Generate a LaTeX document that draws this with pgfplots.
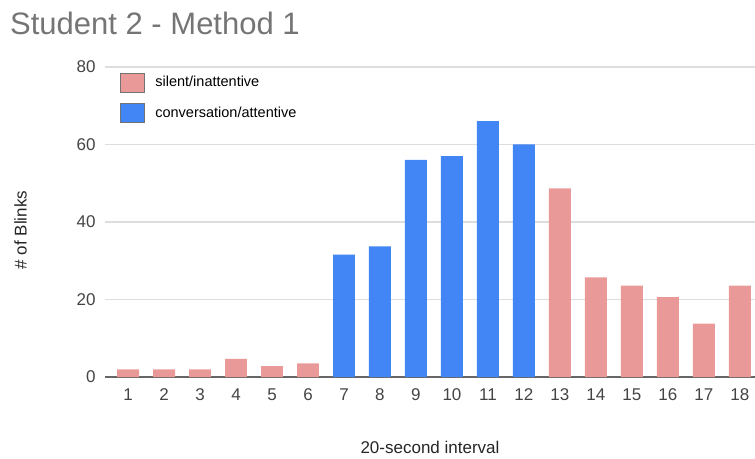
\documentclass[border=0pt]{standalone}
\usepackage{pgfplots}
\pgfplotsset{compat=1.18}
\usepackage{fontspec}
\setmainfont{Liberation Sans}
\definecolor{pinkc}{HTML}{EA9999}
\definecolor{bluec}{HTML}{4285F4}
\definecolor{titlec}{HTML}{757575}
\definecolor{tickc}{HTML}{444444}
\definecolor{gridc}{HTML}{DDDDDD}
\definecolor{zeroc}{HTML}{666666}
\begin{document}
\begin{tikzpicture}
\path[use as bounding box] (0pt,0pt) rectangle (755pt,458pt);
\node[anchor=base west, text=titlec, font=\fontsize{31}{31}\selectfont, inner sep=0pt] at (10pt,423pt) {Student 2 - Method 1};
\begin{axis}[
  at={(105pt,81pt)}, anchor=south west,
  width=650pt, height=310pt, scale only axis,
  xmin=0.36, xmax=18.42, ymin=0, ymax=80,
  axis line style={draw=none},
  ytick={20,40,60,80},
  extra y ticks={0},
  extra y tick style={grid style={draw=zeroc, line width=1.3pt}},
  ymajorgrids,
  grid style={draw=gridc, line width=1.1pt},
  major tick length=0pt,
  xtick={1,...,18},
  /pgf/number format/assume math mode=true,
  tick label style={text=tickc, font=\fontsize{17}{17}\selectfont},
  yticklabel style={xshift=-6pt},
  xticklabel style={yshift=-8pt},
  xlabel={20-second interval},
  ylabel={\# of Blinks},
  label style={text=black!85, font=\fontsize{17}{17}\selectfont},
  xlabel style={at={(axis description cs:0.5,0)}, anchor=center, yshift=-70pt},
  ylabel style={at={(axis description cs:-0.13,0.474)}, anchor=center},
  clip=false,
  legend style={draw=none, fill=none, at={(rel axis cs:0.023,0.982)}, anchor=north west,
    font=\fontsize{14.5}{14.5}\selectfont, row sep=11pt, inner sep=0pt, outer sep=0pt},
  legend cell align=left,
  legend image code/.code={\draw[#1, draw=black!55, line width=0.8pt] (0pt,-9.5pt) rectangle (24pt,9.5pt); \path (33pt,0pt);},
]
\addplot[ybar, bar shift=0pt, bar width=0.61, fill=pinkc, draw=none] coordinates {
(1,2) (2,2) (3,2) (4,4.7) (5,2.8) (6,3.5)
(13,48.7) (14,25.7) (15,23.6) (16,20.6) (17,13.8) (18,23.6)};
\addlegendentry{silent/inattentive}
\addplot[ybar, bar shift=0pt, bar width=0.61, fill=bluec, draw=none] coordinates {
(7,31.6) (8,33.7) (9,56) (10,57) (11,66) (12,60)};
\addlegendentry{conversation/attentive}
\end{axis}
\end{tikzpicture}
\end{document}
